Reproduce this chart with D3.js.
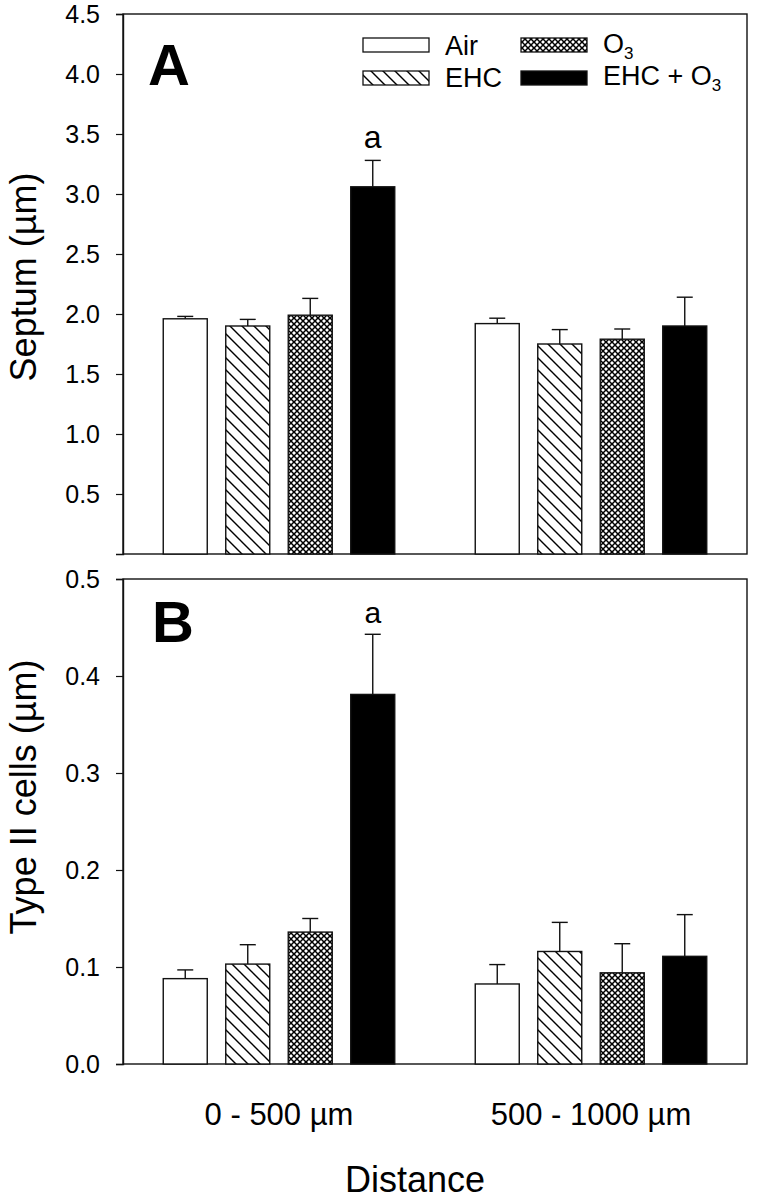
<!DOCTYPE html>
<html><head><meta charset="utf-8">
<script src="https://cdn.jsdelivr.net/npm/d3@7"></script>
<style>
html,body{margin:0;padding:0;background:#fff;}
text{font-family:"Liberation Sans",Arial,Helvetica,sans-serif;fill:#000;}
</style></head>
<body>
<svg id="c" width="758" height="1200"></svg>
<script>
const groups = ["0 - 500 µm", "500 - 1000 µm"];
const treatments = ["Air", "EHC", "O3", "EHC + O3"];
const septumMean = [[1.96, 1.90, 1.99, 3.06], [1.92, 1.75, 1.79, 1.90]];
const septumSE   = [[0.02, 0.055, 0.14, 0.22], [0.045, 0.12, 0.085, 0.24]];
const type2Mean  = [[0.088, 0.103, 0.136, 0.381], [0.0825, 0.116, 0.094, 0.111]];
const type2SE    = [[0.009, 0.020, 0.014, 0.062], [0.020, 0.030, 0.030, 0.043]];
const sigLabels  = [["", "", "", "a"], ["", "", "", ""]];
const septumTicks = [0.5, 1.0, 1.5, 2.0, 2.5, 3.0, 3.5, 4.0, 4.5];
const type2Ticks  = [0.0, 0.1, 0.2, 0.3, 0.4, 0.5];

const svg = d3.select("#c");
const defs = svg.append("defs");
const hatch = defs.append("pattern").attr("id","hatch").attr("patternUnits","userSpaceOnUse")
  .attr("width",12).attr("height",12);
hatch.append("rect").attr("width",12).attr("height",12).attr("fill","#fff");
hatch.append("path").attr("d","M-1,-1L13,13M-7,5L7,19M5,-7L19,7").attr("stroke","#000").attr("stroke-width",1.4);
const cross = defs.append("pattern").attr("id","cross").attr("patternUnits","userSpaceOnUse")
  .attr("width",6).attr("height",6);
cross.append("rect").attr("width",6).attr("height",6).attr("fill","#fff");
cross.append("path").attr("d","M-1,-1L7,7M7,-1L-1,7").attr("stroke","#000").attr("stroke-width",1.5);

const fills = ["#fff", "url(#hatch)", "url(#cross)", "#000"];

const left = 123, right = 747;
const x0 = d3.scaleBand().domain(groups).range([left, right]).paddingInner(0).paddingOuter(0);
const x1 = d3.scaleBand().domain(treatments).range([0, x0.bandwidth()]).paddingInner(0.296).paddingOuter(0.644);

function panel(cfg){
  const y = d3.scaleLinear().domain(cfg.domain).range([cfg.bottom, cfg.top]);
  const g = svg.append("g");
  g.append("rect").attr("x",left).attr("y",cfg.top).attr("width",right-left).attr("height",cfg.bottom-cfg.top)
    .attr("fill","none").attr("stroke","#111").attr("stroke-width",1.4);
  const ax = g.append("g").attr("transform",`translate(${left},0)`)
    .call(d3.axisLeft(y).tickValues(cfg.ticks).tickFormat(d3.format(".1f")).tickSize(7).tickPadding(16));
  ax.select(".domain").attr("stroke","#111").attr("stroke-width",1.4);
  ax.selectAll(".tick line").attr("stroke","#111").attr("stroke-width",1.2);
  ax.selectAll(".tick text").attr("font-size",25).attr("font-family","Liberation Sans, Arial, sans-serif").attr("fill","#000");
  groups.forEach((gr, gi) => {
    treatments.forEach((t, ti) => {
      const bx = x0(gr) + x1(t), bw = x1.bandwidth();
      const m = cfg.mean[gi][ti], se = cfg.se[gi][ti];
      g.append("rect").attr("x",bx).attr("y",y(m)).attr("width",bw).attr("height",y(0)-y(m))
        .attr("fill",fills[ti]).attr("stroke","#111").attr("stroke-width",1.4);
      const cx = bx + bw/2;
      g.append("line").attr("x1",cx).attr("x2",cx).attr("y1",y(m)).attr("y2",y(m+se)).attr("stroke","#111").attr("stroke-width",1.4);
      g.append("line").attr("x1",cx-8).attr("x2",cx+8).attr("y1",y(m+se)).attr("y2",y(m+se)).attr("stroke","#111").attr("stroke-width",1.4);
      const s = sigLabels[gi][ti];
      if (s) g.append("text").attr("x",cx).attr("y",y(m+se)-cfg.sigGap).attr("text-anchor","middle")
        .attr("font-size",cfg.sigSize).text(s);
    });
  });
  g.append("text").attr("x",cfg.letterX).attr("y",cfg.letterY).attr("font-size",58).attr("font-weight","bold").text(cfg.letter);
  g.append("text").attr("transform",`translate(36,${cfg.titleY}) rotate(-90)`).attr("text-anchor","middle")
    .attr("font-size",36).text(cfg.title);
  return y;
}

panel({domain:[0,4.5], top:14, bottom:554, ticks:septumTicks, mean:septumMean, se:septumSE,
  letter:"A", letterX:148, letterY:85, title:"Septum (µm)", titleY:277, sigGap:12, sigSize:32});
panel({domain:[0,0.5], top:579, bottom:1064, ticks:type2Ticks, mean:type2Mean, se:type2SE,
  letter:"B", letterX:152, letterY:642, title:"Type II cells (µm)", titleY:797, sigGap:11, sigSize:30});

svg.append("g").selectAll("text").data(groups).join("text")
  .attr("x", d => x0(d) + x0.bandwidth()/2).attr("y",1125).attr("text-anchor","middle")
  .attr("font-size",31).text(d => d);
svg.append("text").attr("x",415).attr("y",1192).attr("text-anchor","middle").attr("font-size",36).text("Distance");

const legItems = [
  {i:0, sx:363, sy:38, tx:445, ty:55},
  {i:1, sx:363, sy:71, tx:445, ty:87},
  {i:2, sx:521, sy:38, tx:603, ty:53},
  {i:3, sx:521, sy:71, tx:603, ty:85}
];
const leg = svg.append("g");
legItems.forEach(d => {
  leg.append("rect").attr("x",d.sx).attr("y",d.sy).attr("width",66).attr("height",14)
    .attr("fill",fills[d.i]).attr("stroke","#111").attr("stroke-width",1.3);
  const name = treatments[d.i];
  const t = leg.append("text").attr("x",d.tx).attr("y",d.ty).attr("font-size",27);
  if (name.endsWith("O3")) {
    t.append("tspan").text(name.slice(0,-1));
    t.append("tspan").attr("dy",6).attr("font-size",17).text("3");
  } else {
    t.text(name);
  }
});
</script>
</body></html>
